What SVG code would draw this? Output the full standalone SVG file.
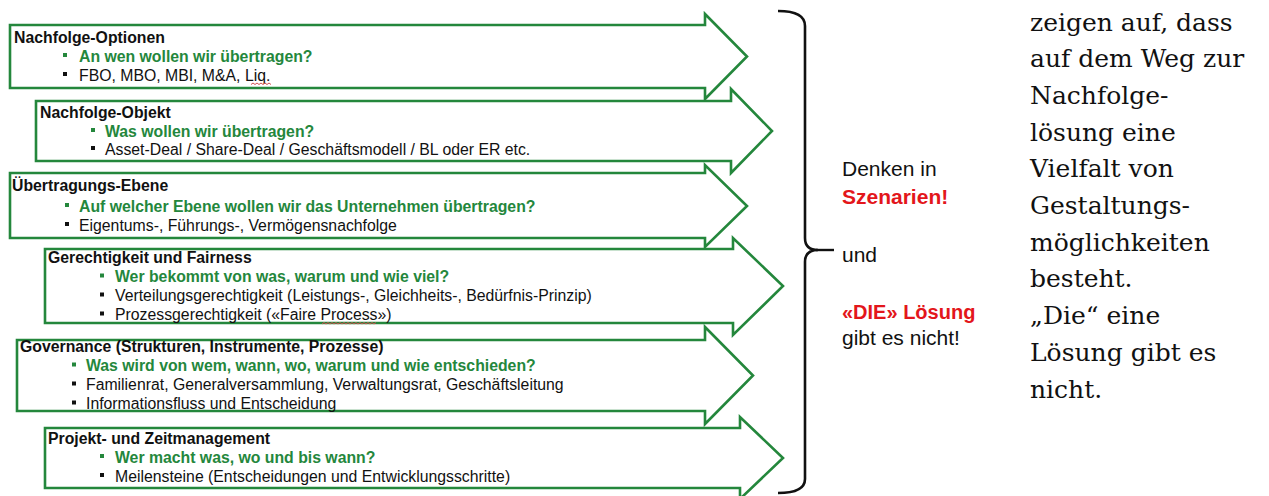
<svg xmlns="http://www.w3.org/2000/svg" width="1269" height="496" viewBox="0 0 1269 496">
<style>
.arr{fill:#fff;stroke:#24873c;stroke-width:2.6;stroke-linejoin:miter}
.t{font-family:"Liberation Sans",Arial,sans-serif;font-size:15.8px;fill:#111}
.h{font-weight:bold}
.g{font-weight:bold;fill:#24873c}
.bg{fill:#24873c}
.bk{fill:#111}
.sq{fill:none;stroke:#d05050;stroke-width:1}
.m{font-family:"Liberation Sans",Arial,sans-serif;font-size:21px;fill:#111}
.r{font-weight:bold;fill:#e3161b}
.s{font-family:"DejaVu Serif","Liberation Serif",serif;font-size:25px;fill:#111}
</style>
<rect width="1269" height="496" fill="#fff"/>
<g id="connectors">
<path d="M778 11 Q805 11 805 26 L805 238 Q805 250 818 250 Q805 250 805 262 L805 479 Q805 493 778 493" fill="none" stroke="#111" stroke-width="2.6"/>
<line x1="816" y1="250" x2="834" y2="250" stroke="#111" stroke-width="2.4"/>
</g>
<g id="n1">
<polygon class="arr" points="10,25 705,25 705,14 747,56.5 705,99 705,88 10,88"/>
<text class="t h" x="14" y="42.5">Nachfolge-Optionen</text>
<rect class="bg" x="63" y="53" width="4" height="4"/>
<text class="t g" x="79" y="61.5">An wen wollen wir übertragen?</text>
<rect class="bk" x="63" y="72" width="4" height="4"/>
<text class="t" x="79" y="80.5">FBO, MBO, MBI, M&amp;A, Liq.</text>
<path class="sq" d="M251 84.5 l2 -1.5 l2 1.5 l2 -1.5 l2 1.5 l2 -1.5 l2 1.5 l2 -1.5 l2 1.5 l2 -1.5 l2 1.5"/>
</g>
<g id="n2">
<polygon class="arr" points="36,101 731,101 731,89 772,131 731,173 731,161 36,161"/>
<text class="t h" x="40" y="118">Nachfolge-Objekt</text>
<rect class="bg" x="91" y="128" width="4" height="4"/>
<text class="t g" x="105" y="136.5">Was wollen wir übertragen?</text>
<rect class="bk" x="91" y="146" width="4" height="4"/>
<text class="t" x="105" y="154.5">Asset-Deal / Share-Deal / Geschäftsmodell / BL oder ER etc.</text>
</g>
<g id="n3">
<polygon class="arr" points="10,173 705,173 705,165 747,206 705,247 705,238 10,238"/>
<text class="t h" x="12" y="191">Übertragungs-Ebene</text>
<rect class="bg" x="65" y="203" width="4" height="4"/>
<text class="t g" x="79" y="211.5">Auf welcher Ebene wollen wir das Unternehmen übertragen?</text>
<rect class="bk" x="65" y="222" width="4" height="4"/>
<text class="t" x="79" y="230.5">Eigentums-, Führungs-, Vermögensnachfolge</text>
</g>
<g id="n4">
<polygon class="arr" points="45,249 733,249 733,238 783,286 733,335 733,323 45,323"/>
<text class="t h" x="48" y="263">Gerechtigkeit und Fairness</text>
<rect class="bg" x="100" y="273.5" width="4" height="4"/>
<text class="t g" x="115" y="282">Wer bekommt von was, warum und wie viel?</text>
<rect class="bk" x="100" y="292.5" width="4" height="4"/>
<text class="t" x="115" y="301">Verteilungsgerechtigkeit (Leistungs-, Gleichheits-, Bedürfnis-Prinzip)</text>
<rect class="bk" x="100" y="311.5" width="4" height="4"/>
<text class="t" x="115" y="320">Prozessgerechtigkeit («Faire Process»)</text>
<path class="sq" d="M322 324 l2 -1.5 l2 1.5 l2 -1.5 l2 1.5 l2 -1.5 l2 1.5 l2 -1.5 l2 1.5 l2 -1.5 l2 1.5 l2 -1.5 l2 1.5 l2 -1.5 l2 1.5 l2 -1.5 l2 1.5 l2 -1.5 l2 1.5 l2 -1.5 l2 1.5 l2 -1.5 l2 1.5 l2 -1.5 l2 1.5 l2 -1.5 l2 1.5 l2 -1.5"/>
</g>
<g id="n5">
<polygon class="arr" points="17,340 705,340 705,327 753,375.5 705,424 705,411 17,411"/>
<text class="t h" x="20" y="352">Governance (Strukturen, Instrumente, Prozesse)</text>
<rect class="bg" x="72" y="362.5" width="4" height="4"/>
<text class="t g" x="86" y="371">Was wird von wem, wann, wo, warum und wie entschieden?</text>
<rect class="bk" x="72" y="381.5" width="4" height="4"/>
<text class="t" x="86" y="390">Familienrat, Generalversammlung, Verwaltungsrat, Geschäftsleitung</text>
<rect class="bk" x="72" y="400.5" width="4" height="4"/>
<text class="t" x="86" y="409">Informationsfluss und Entscheidung</text>
</g>
<g id="n6">
<polygon class="arr" points="45,428 740,428 740,417 783,458 740,499 740,488 45,488"/>
<text class="t h" x="48" y="443.5">Projekt- und Zeitmanagement</text>
<rect class="bg" x="100" y="454" width="4" height="4"/>
<text class="t g" x="115" y="462.5">Wer macht was, wo und bis wann?</text>
<rect class="bk" x="100" y="473" width="4" height="4"/>
<text class="t" x="115" y="481.5">Meilensteine (Entscheidungen und Entwicklungsschritte)</text>
</g>
<g id="mid">
<text class="m" x="842" y="175.5">Denken in</text>
<text class="m r" x="842" y="203.5">Szenarien!</text>
<text class="m" x="842" y="261.5">und</text>
<text class="m r" x="842" y="318.5" style="font-size:20px">«DIE» Lösung</text>
<text class="m" x="842" y="344.5">gibt es nicht!</text>
</g>
<g id="right">
<text class="s" x="1030" y="30.5">zeigen auf, dass</text>
<text class="s" x="1030" y="67.2">auf dem Weg zur</text>
<text class="s" x="1030" y="103.9">Nachfolge-</text>
<text class="s" x="1030" y="140.6">lösung eine</text>
<text class="s" x="1030" y="177.3">Vielfalt von</text>
<text class="s" x="1030" y="214">Gestaltungs-</text>
<text class="s" x="1030" y="250.7">möglichkeiten</text>
<text class="s" x="1030" y="287.4">besteht.</text>
<text class="s" x="1030" y="324.1">„Die“ eine</text>
<text class="s" x="1030" y="360.8">Lösung gibt es</text>
<text class="s" x="1030" y="397.5">nicht.</text>
</g>
</svg>
